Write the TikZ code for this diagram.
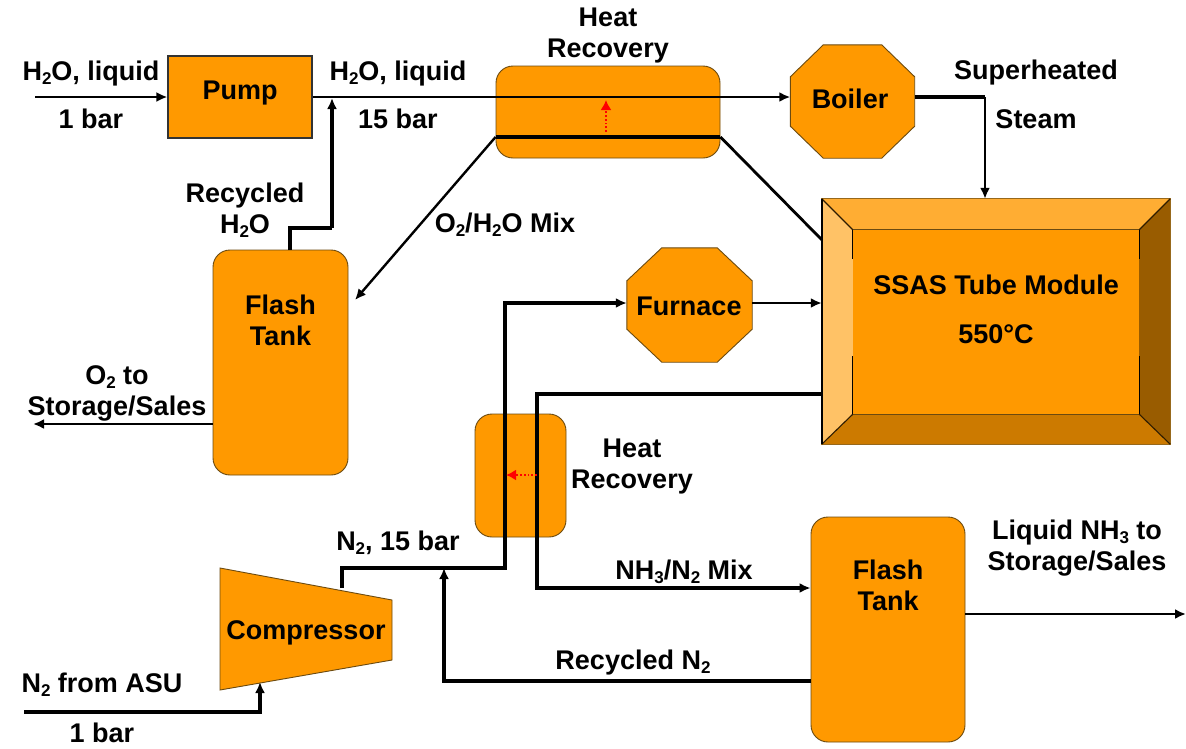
\documentclass[tikz,border=0pt]{standalone}
\usepackage{fontspec}
\setmainfont{Liberation Sans}
\usetikzlibrary{arrows.meta,calc}
\definecolor{fillor}{HTML}{FF9900}
\definecolor{bevt}{HTML}{FFAD33}
\definecolor{bevl}{HTML}{FFC266}
\definecolor{bevb}{HTML}{CC7A00}
\definecolor{bevr}{HTML}{995C00}
\definecolor{edgeor}{HTML}{6B4A10}
\newcommand{\subs}[1]{\raisebox{-0.28ex}{\fontsize{17}{17}\selectfont #1}}
\tikzset{
  x=1pt,y=-1pt,
  unit/.style={draw=edgeor,line width=0.9pt,fill=fillor,inner sep=0pt,font=\fontsize{27}{32}\bfseries\selectfont,align=center},
  roundunit/.style={unit,rounded corners=17pt},
  lbl/.style={inner sep=0pt,font=\fontsize{27}{32}\bfseries\selectfont,align=center,text=black},
  flow/.style={draw=black,line width=2.4pt,-{Latex[length=11pt,width=10pt]}},
  flowthin/.style={draw=black,line width=2.4pt},
  heavy/.style={draw=black,line width=3.4pt},
  heatflow/.style={draw=red,line width=1.8pt,dotted,-{Latex[length=10pt,width=11pt]}},
  ghost/.style={inner sep=0pt,text=black,font=\fontsize{27}{32}\bfseries\selectfont,align=center}
}
\newcommand{\octa}[3]{% name, cut x, cut y
  \fill[fillor,draw=edgeor,line width=0.9pt]
   ($(#1.north west)+(#2,0)$) -- ($(#1.north east)+(-#2,0)$) -- ($(#1.north east)+(0,#3)$) --
   ($(#1.south east)+(0,-#3)$) -- ($(#1.south east)+(-#2,0)$) -- ($(#1.south west)+(#2,0)$) --
   ($(#1.south west)+(0,-#3)$) -- ($(#1.north west)+(0,#3)$) -- cycle;}
\begin{document}
\begin{tikzpicture}
\useasboundingbox (0,0) rectangle (1186,748);

% unit shapes
\node[unit,draw=black!80,line width=1.2pt,minimum width=144pt,minimum height=82pt] (pump) at (240,97) {};
\node[ghost] (pumptext) at (240,93.5) {Pump};
\node[roundunit,minimum width=224pt,minimum height=92pt] (hr1) at (608,112) {};
\node[inner sep=0pt,minimum width=124pt,minimum height=113pt] (boilerbox) at (852.5,101.5) {};
\octa{boilerbox}{33}{32}
\node[ghost] (boiler) at (850,99) {Boiler};
\node[roundunit,minimum width=135pt,minimum height=225pt] (ft1) at (280.5,362.5) {};
\node[inner sep=0pt,minimum width=125pt,minimum height=114pt] (furnacebox) at (689.5,305) {};
\octa{furnacebox}{35}{33}
\node[ghost] (furnace) at (689,306) {Furnace};
\node[roundunit,minimum width=91pt,minimum height=123pt] (hr2) at (520.5,475.5) {};
\node[roundunit,minimum width=154pt,minimum height=225pt] (ft2) at (888,629.5) {};

% tube module
\node[inner sep=0pt,minimum width=348pt,minimum height=245pt] (tube) at (996,321.5) {};
\node[inner sep=0pt,minimum width=286pt,minimum height=184pt] (tubein) at (996,322) {};
\fill[bevt] (tube.north west) -- (tube.north east) -- (tubein.north east) -- (tubein.north west) -- cycle;
\fill[bevl] (tube.north west) -- (tubein.north west) -- (tubein.south west) -- (tube.south west) -- cycle;
\fill[bevb] (tube.south west) -- (tube.south east) -- (tubein.south east) -- (tubein.south west) -- cycle;
\fill[bevr] (tube.north east) -- (tube.south east) -- (tubein.south east) -- (tubein.north east) -- cycle;
\fill[fillor] (tubein.north west) rectangle (tubein.south east);
\draw[edgeor!70!bevt,line width=1pt] (tube.north west) rectangle (tube.south east);
\draw[edgeor,line width=1pt] (tubein.north west) -- (tubein.north east) (tubein.south west) -- (tubein.south east);
\draw[black!70!bevr,line width=1.1pt] (tube.north west) -- (tubein.north west) (tube.north east) -- (tubein.north east)
  (tube.south west) -- (tubein.south west) (tube.south east) -- (tubein.south east);
\draw[black,line width=1.8pt] (tube.north west) -- (tube.south west);
\draw[black,line width=1.3pt] (tubein.north west) -- ++(0,29) (tubein.south west) -- ++(0,-58)
  (tubein.north east) -- ++(0,29) (tubein.south east) -- ++(0,-58);
\node[ghost] (tubetext) at (996,285) {SSAS Tube Module};
\node[ghost] (tubetemp) at (996,334) {550°C};

% compressor
\coordinate (ca) at (220,568); \coordinate (cb) at (392,600); \coordinate (cc) at (392,660); \coordinate (cd) at (220,690);
\fill[fillor,draw=edgeor,line width=0.9pt] (ca) -- (cb) -- (cc) -- (cd) -- cycle;
\node[ghost] (comp) at (306,633) {Compressor};

% connector waypoints
\coordinate (w1s) at (35,97);
\coordinate (lowin) at (24,712);
\coordinate (lowin2) at (260,712);
\coordinate (lowin3) at (260,682);
\coordinate (st1) at (985,97);
\coordinate (rec1) at (290,228);
\coordinate (rec2) at (332,228);
\coordinate (rec3) at (332,98);
\coordinate (n1) at (342,588);
\coordinate (n2) at (342,568);
\coordinate (n3) at (505,568);
\coordinate (n4) at (505,303);
\coordinate (p1) at (822,394);
\coordinate (p2) at (537,394);
\coordinate (p3) at (537,588);
\coordinate (r1) at (811,681);
\coordinate (r2) at (444,681);
\coordinate (r3) at (444,568);
\coordinate (lq) at (1186,614);
\coordinate (o2) at (33,424);

% connectors
\draw[flow] (w1s) -- (w1s -| pump.west);
\draw[flow] (pump.east |- 0,97) -- (boilerbox.west |- 0,97);
\draw[flowthin,line width=3.2pt] (boilerbox.east |- 0,97) -- (st1);
\draw[flow] (st1) -- (st1 |- tube.north);
\draw[flowthin,line width=3.2pt] (290,250) -- (rec1) -- (rec2);
\draw[flow,line width=3.2pt] (rec2) -- (rec3);
\draw[heavy] (hr1.west |- 0,137) -- (hr1.east |- 0,137);
\draw[flow] (hr1.west |- 0,137) -- (355,300);
\draw[flowthin,line width=2.8pt] (hr1.east |- 0,137) -- (822,240);
\draw[flow] (ft1.west |- o2) -- (o2);
\draw[flow,line width=3.2pt] (n1) -- (n2) -- (n3) -- (n4) -- (furnacebox.west |- n4);
\draw[flow] (furnacebox.east |- 0,303) -- (tube.west |- 0,303);
\draw[flow,line width=3.2pt] (p1) -- (p2) -- (p3) -- (ft2.west |- p3);
\draw[flow,line width=3.2pt] (r1) -- (r2) -- (r3);
\draw[flow] (ft2.east |- lq) -- (lq);
\draw[flow,line width=3.2pt] (lowin) -- (lowin2) -- (lowin3);
\draw[heatflow] (606,132) -- (606,100);
\draw[heatflow] (537,475) -- (506,475);

% labels
\node[lbl] (l1) at (91,74) {H\subs{2}O, liquid};
\node[lbl] (l2) at (91,119) {1 bar};
\node[lbl] (l3) at (398,74) {H\subs{2}O, liquid};
\node[lbl] (l4) at (398,119) {15 bar};
\node[lbl] (l5) at (608,36) {Heat\\[-1pt]Recovery};
\node[lbl] (l6) at (1036,73) {Superheated};
\node[lbl] (l7) at (1036,119) {Steam};
\node[lbl] (l8) at (245,210) {Recycled\\[-1pt]H\subs{2}O};
\node[lbl] (l9) at (505,225) {O\subs{2}/H\subs{2}O Mix};
\node[lbl] (l10) at (280.5,320) {Flash\\[-1pt]Tank};
\node[lbl] (l11) at (117,393) {O\subs{2} to\\[-1pt]Storage/Sales};
\node[lbl] (l12) at (632,467) {Heat\\[-1pt]Recovery};
\node[lbl] (l13) at (398,543) {N\subs{2}, 15 bar};
\node[lbl] (l14) at (684,572) {NH\subs{3}/N\subs{2} Mix};
\node[lbl] (l15) at (1077,548) {Liquid NH\subs{3} to\\[-1pt]Storage/Sales};
\node[lbl] (l16) at (888,585) {Flash\\[-1pt]Tank};
\node[lbl] (l17) at (633,663) {Recycled N\subs{2}};
\node[lbl] (l18) at (102,685) {N\subs{2} from ASU};
\node[lbl] (l19) at (102,733) {1 bar};
\end{tikzpicture}
\end{document}
